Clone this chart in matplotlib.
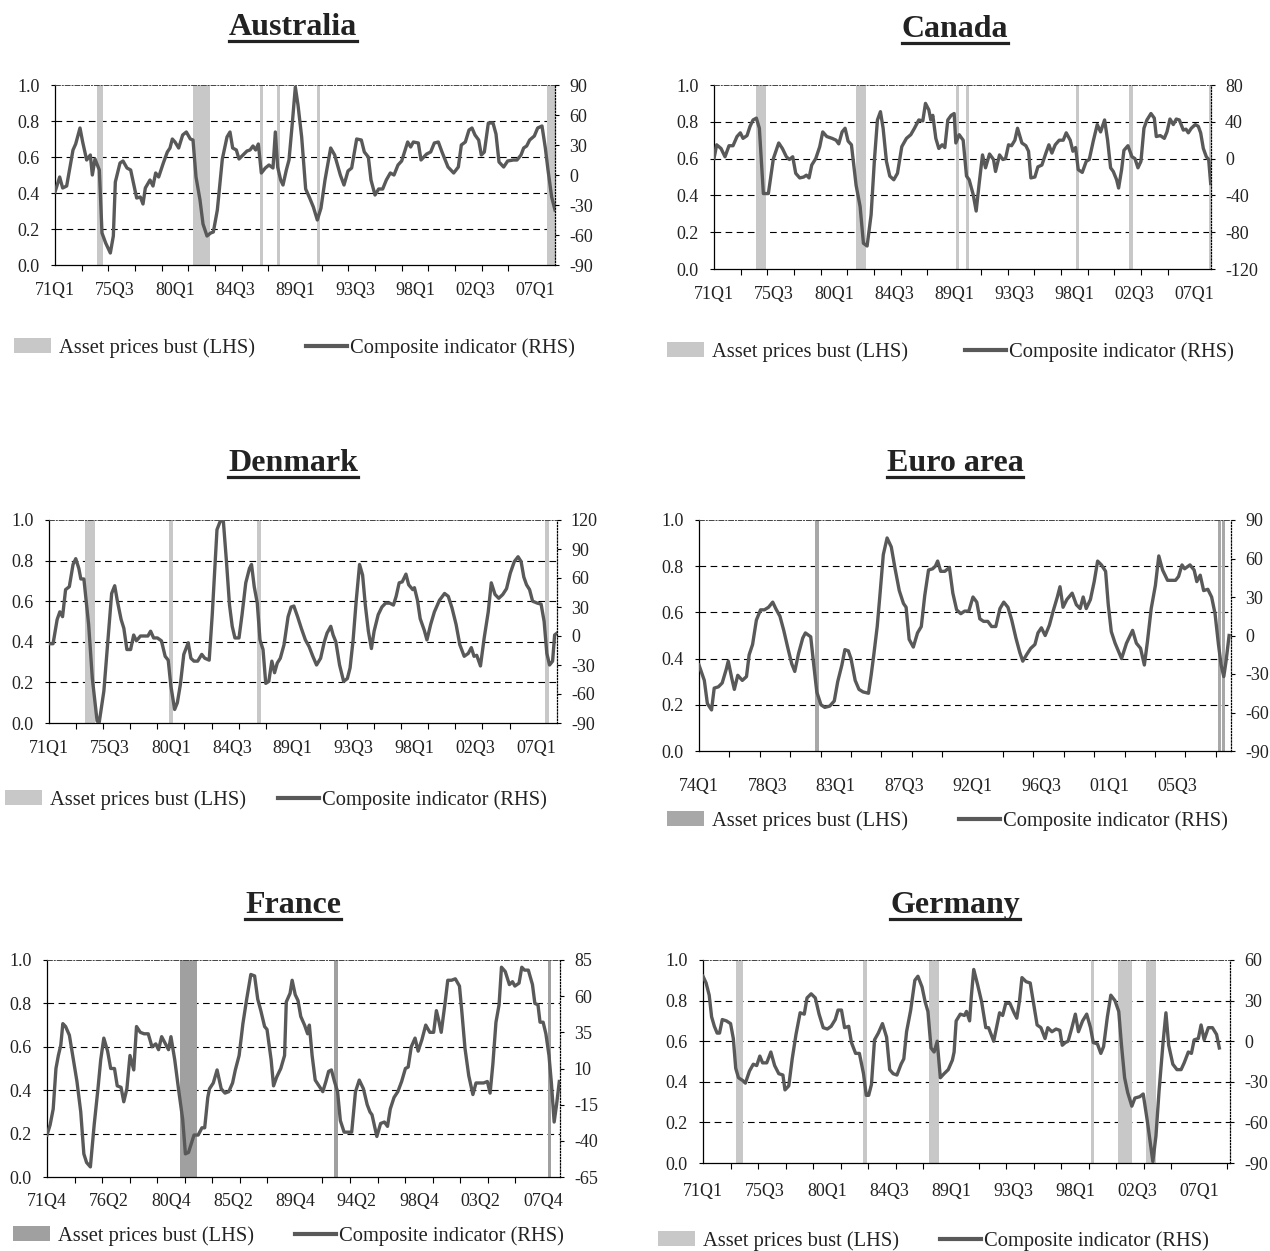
import numpy as np
import matplotlib
matplotlib.use("Agg")
import matplotlib.pyplot as plt
from matplotlib.patches import Patch
from matplotlib.lines import Line2D

plt.rcParams['font.family'] = ['Liberation Serif', 'DejaVu Serif']
plt.rcParams['axes.unicode_minus'] = False

# composite indicator: (quarters since first quarter, value on RHS scale)
australia = [(0,-17),(1.4,-2),(2.3,-13),(3.5,-11),(4.8,14),(5.4,25),(6.2,31),(7.5,47),(8.3,33),(9.5,15),(10.6,20),(11.2,0),(12.0,16),(13.3,5),(14.1,-58),(15.2,-68),(16.6,-78),(17.5,-61),(18.1,-7),(19.5,12),(20.4,14),(21.6,7),(22.7,5),(23.9,-14),(24.5,-23),(25.6,-22),(26.4,-29),(27.1,-13),(28.5,-5),(29.4,-11),(30.2,2),(31.1,-2),(32.5,12),(33.7,23),(34.5,27),(35.2,36),(36.0,33),(37.1,27),(38.3,40),(39.4,43),(40.6,36),(41.4,35),(42.3,-2),(43.5,-25),(44.4,-49),(45.6,-61),(46.7,-58),(47.5,-57),(48.7,-35),(50.2,16),(51.6,38),(52.5,43),(53.3,27),(54.4,25),(55.2,16),(56.4,20),(57.6,24),(58.5,25),(59.4,29),(60.2,25),(61.0,31),(61.9,2),(63.1,7),(64.2,10),(65.4,7),(66.1,43),(66.8,8),(67.7,-5),(68.4,-10),(69.4,5),(70.2,15),(71.2,52),(72.1,88),(72.9,70),(74.0,38),(75.2,-14),(76.4,-23),(77.5,-32),(78.7,-45),(79.8,-33),(81.0,-5),(82.7,27),(83.9,20),(85.6,0),(86.7,-10),(87.9,4),(89.0,7),(90.5,36),(91.9,35),(92.8,23),(94.0,18),(94.8,-5),(96.0,-20),(97.1,-14),(98.3,-14),(99.4,-5),(100.6,2),(101.7,0),(102.9,10),(104.0,14),(105.8,33),(106.7,28),(107.5,33),(109.0,32),(109.8,15),(111.5,21),(112.7,23),(113.8,32),(115.0,33),(116.1,23),(117.9,8),(119.6,2),(121.0,8),(121.9,30),(123.1,33),(124.2,45),(125.1,47),(126.0,40),(127.1,35),(127.9,20),(128.8,23),(130.0,52),(131.4,52),(132.3,41),(133.2,13),(134.6,8),(135.8,14),(137.5,15),(138.6,15),(139.8,20),(140.6,27),(141.5,29),(142.4,35),(143.8,39),(144.8,47),(146.1,49),(147.1,27),(147.9,5),(149.0,-22),(150.0,-35)]

canada = [(0,0),(0.8,15),(2.1,11),(3.3,2),(4.5,14),(5.7,14),(6.9,24),(7.9,28),(8.7,22),(9.9,25),(10.8,35),(11.7,42),(12.7,44),(13.6,33),(14.8,-38),(16.3,-38),(17.8,0),(19.4,17),(20.5,11),(21.7,2),(22.6,-1),(23.6,2),(24.5,-16),(25.7,-21),(26.9,-20),(27.7,-18),(28.5,-21),(29.3,-7),(30.5,0),(31.7,13),(32.6,29),(33.8,24),(35.4,22),(36.6,20),(37.4,16),(38.4,29),(39.3,33),(40.2,19),(41.2,15),(42.6,-29),(43.8,-52),(44.8,-92),(45.9,-95),(47.1,-61),(48.1,-1),(49.0,42),(49.9,51),(50.7,33),(51.7,-3),(52.7,-19),(53.9,-23),(55.0,-16),(56.3,13),(57.7,22),(59.0,26),(60.1,33),(61.4,42),(62.6,41),(63.4,60),(64.4,53),(65.0,42),(65.6,47),(66.5,22),(67.4,11),(68.4,15),(69.2,12),(70.1,42),(71.1,47),(72.0,49),(72.5,17),(73.5,26),(74.7,20),(75.7,-19),(76.5,-23),(77.7,-39),(78.6,-57),(79.5,-27),(80.5,4),(81.4,-10),(82.6,5),(83.8,-1),(84.4,-14),(85.6,4),(86.6,-1),(87.4,0),(88.3,15),(89.2,14),(90.2,20),(91.0,33),(92.3,17),(93.5,14),(94.3,8),(95.0,-21),(96.2,-20),(97.1,-9),(98.3,-7),(99.5,6),(100.4,15),(101.3,6),(102.3,15),(103.5,20),(104.7,20),(105.6,28),(106.8,20),(107.6,8),(108.4,12),(109.2,-12),(110.4,-15),(111.6,-3),(112.5,-1),(113.7,19),(114.9,37),(115.9,29),(117.1,42),(118.0,20),(118.9,-10),(119.7,-14),(120.7,-23),(121.3,-32),(122.2,-12),(122.9,9),(124.1,14),(125.3,2),(126.2,0),(127.1,-10),(128.0,-3),(128.9,33),(129.8,42),(131.0,49),(132.0,44),(132.6,24),(133.8,25),(135.0,22),(135.8,29),(136.7,43),(137.7,37),(138.6,43),(139.5,42),(140.7,31),(141.5,32),(142.2,28),(143.1,33),(144.3,37),(145.2,35),(145.9,28),(146.7,11),(147.6,2),(148.3,-1),(148.9,-27)]

denmark = [(0,-8),(1.2,-8),(2.4,17),(3.2,25),(4.0,20),(4.9,48),(6.0,51),(7.1,74),(7.9,80),(8.8,70),(9.4,59),(10.3,59),(11.7,12),(12.8,-44),(14.2,-88),(14.8,-90),(16.2,-57),(17.3,-9),(18.5,44),(19.4,52),(20.2,36),(21.3,17),(22.1,8),(23.0,-14),(24.1,-14),(25.0,1),(25.8,-5),(27.0,0),(28.1,0),(29.2,0),(30.0,5),(30.9,-2),(32.0,-2),(33.2,-5),(34.3,-21),(35.2,-25),(36.0,-52),(37.1,-76),(37.9,-69),(38.8,-50),(39.8,-19),(41.1,-7),(41.9,-23),(42.8,-26),(43.9,-26),(45.1,-19),(46.0,-23),(47.3,-25),(48.2,22),(49.6,110),(50.7,120),(51.5,118),(52.4,77),(53.3,32),(54.1,10),(54.9,-2),(56.1,-2),(57.0,22),(58.1,55),(59.2,70),(59.8,74),(60.6,51),(61.5,34),(62.3,-4),(63.2,-14),(64.0,-49),(64.9,-47),(65.8,-26),(66.6,-38),(67.4,-28),(68.3,-23),(69.4,-9),(70.6,20),(71.5,30),(72.3,31),(73.4,20),(74.5,8),(75.7,-4),(76.8,-11),(77.9,-21),(79.0,-30),(80.2,-23),(81.3,-6),(82.1,3),(83.2,10),(83.9,1),(84.7,-6),(85.8,-30),(87.0,-47),(88.1,-44),(88.9,-33),(89.8,-4),(90.7,36),(91.7,74),(92.6,63),(93.4,32),(94.3,5),(95.2,-13),(96.0,5),(97.2,22),(98.3,30),(99.4,34),(100.6,34),(101.7,32),(102.5,41),(103.4,55),(104.3,56),(105.4,64),(106.2,53),(107.4,48),(107.9,50),(108.8,37),(109.6,18),(110.8,6),(111.6,-4),(112.7,12),(113.8,25),(115.3,37),(116.8,44),(117.9,41),(119.0,29),(120.2,12),(121.3,-9),(122.6,-21),(123.8,-18),(124.7,-12),(125.5,-21),(126.3,-20),(127.4,-31),(128.5,-2),(129.7,25),(130.6,55),(131.7,43),(132.8,39),(134.0,43),(135.1,49),(136.2,65),(137.4,77),(138.5,82),(139.4,77),(140.2,61),(141.0,53),(141.9,48),(142.8,36),(144.2,34),(145.3,33),(146.2,15),(147.0,-18),(147.8,-30),(148.7,-26),(149.3,1),(150.0,3)]

euro_area = [(0,-23),(0.8,-30),(1.4,-35),(2.2,-53),(3.3,-58),(4.0,-41),(5.1,-40),(6.1,-37),(7.2,-26),(7.7,-20),(8.6,-33),(9.3,-42),(10.2,-31),(11.4,-35),(12.5,-32),(13.2,-15),(14.1,-7),(15.1,12),(16.2,20),(17.2,20),(18.3,22),(19.4,26),(20.2,21),(21.3,15),(22.3,4),(23.4,-10),(24.4,-22),(25.2,-28),(26.2,-14),(27.3,-2),(28.0,2),(29.4,-1),(30.2,-23),(31.0,-44),(32.1,-54),(33.1,-56),(34.4,-55),(35.6,-51),(36.5,-36),(37.6,-23),(38.4,-11),(39.3,-12),(40.0,-18),(41.1,-35),(42.1,-42),(43.2,-44),(44.6,-45),(45.3,-31),(46.0,-15),(46.9,7),(47.6,31),(48.5,63),(49.5,76),(50.6,69),(51.6,52),(52.7,35),(53.8,25),(54.5,22),(55.3,-3),(56.4,-9),(57.5,2),(58.5,7),(59.4,31),(60.4,51),(61.5,52),(62.2,54),(62.8,58),(63.6,50),(64.7,50),(65.9,53),(66.8,33),(67.8,20),(68.9,17),(69.9,19),(71.0,19),(72.1,30),(73.1,26),(73.9,13),(74.9,11),(76.0,11),(77.0,7),(78.1,7),(79.2,21),(80.2,26),(81.3,22),(82.3,12),(83.4,-2),(84.4,-13),(85.2,-20),(86.2,-15),(87.3,-10),(88.4,-7),(89.2,2),(90.1,6),(91.1,0),(92.2,8),(93.2,19),(94.3,30),(95.0,38),(95.8,22),(96.8,28),(98.2,33),(99.3,24),(100.3,21),(101.1,30),(101.9,21),(103.0,28),(104.0,42),(104.9,58),(105.9,55),(107.0,50),(107.7,24),(108.5,3),(109.5,-6),(111.2,-18),(112.5,-6),(114.1,4),(115.1,-6),(116.2,-10),(117.2,-23),(118.0,-5),(119.0,21),(120.1,39),(121.0,62),(122.0,51),(123.3,43),(124.3,43),(125.4,43),(126.2,46),(127.1,55),(127.8,52),(129.2,55),(130.3,51),(131.0,42),(131.9,47),(132.8,35),(133.9,36),(134.9,30),(135.8,17),(136.7,-7),(137.4,-23),(138.1,-32),(138.7,-20),(139.5,0)]

france = [(0,-36),(0.9,-29),(1.8,-18),(2.6,10),(3.3,19),(4.0,26),(4.6,41),(5.4,39),(6.5,33),(7.6,17),(8.7,1),(9.8,-20),(10.7,-49),(11.5,-55),(12.6,-58),(13.7,-29),(14.8,-4),(15.6,16),(16.5,31),(17.6,22),(18.5,10),(19.6,10),(20.4,-2),(21.5,-3),(22.3,-13),(23.2,-4),(24.1,19),(25.2,9),(26.0,39),(27.1,35),(28.2,34),(29.4,34),(30.5,25),(31.6,27),(32.4,23),(33.3,32),(34.2,28),(35.3,23),(36.0,32),(37.1,16),(38.3,-6),(39.4,-25),(40.2,-49),(41.1,-48),(41.9,-42),(42.7,-36),(43.9,-36),(45.0,-31),(45.8,-31),(46.7,-10),(47.2,-4),(48.3,0),(49.4,9),(50.6,-4),(51.7,-7),(52.8,-6),(53.9,0),(54.7,9),(55.8,19),(56.9,41),(58.0,58),(59.2,75),(60.3,74),(61.2,58),(62.1,50),(63.2,39),(63.9,37),(65.1,16),(65.8,-2),(66.7,4),(67.9,10),(69.0,19),(69.5,56),(70.6,62),(71.2,71),(72.1,61),(72.9,57),(73.7,46),(74.8,40),(75.7,34),(76.2,40),(77.0,19),(77.9,2),(79.0,-2),(80.1,-6),(81.0,1),(81.8,8),(82.6,9),(83.5,1),(84.4,-6),(85.2,-26),(86.3,-34),(87.4,-34),(88.5,-34),(89.6,-6),(90.7,2),(91.9,-4),(93.0,-15),(93.8,-20),(94.4,-22),(95.8,-37),(96.9,-28),(98.0,-27),(98.9,-30),(99.7,-18),(100.8,-10),(101.9,-6),(103.0,1),(104.1,10),(104.9,11),(105.8,25),(106.9,31),(107.8,22),(108.9,30),(110.0,40),(111.2,35),(112.3,35),(113.1,50),(113.8,43),(114.5,35),(115.6,55),(116.4,71),(117.5,71),(118.6,72),(119.8,67),(120.5,49),(121.4,24),(122.5,5),(123.7,-8),(124.6,0),(125.7,0),(126.8,0),(127.9,1),(128.7,-7),(129.5,13),(130.4,42),(131.3,54),(132.0,80),(133.1,77),(134.3,68),(135.2,70),(135.9,67),(137.1,69),(137.9,80),(138.7,78),(139.8,78),(141.0,68),(141.7,55),(142.6,54),(143.2,42),(144.1,42),(144.9,34),(145.8,19),(146.5,0),(147.3,-27),(148.0,-15),(148.8,1)]

germany = [(0,48),(0.9,43),(1.8,34),(2.5,18),(3.3,11),(4.1,6),(4.8,6),(5.6,16),(6.8,15),(8.0,13),(8.8,2),(9.5,-20),(10.3,-27),(11.5,-29),(12.3,-31),(13.5,-22),(14.6,-17),(15.6,-18),(16.5,-11),(17.3,-16),(18.5,-16),(19.7,-8),(20.8,-18),(22.0,-24),(23.2,-25),(23.8,-36),(24.9,-33),(25.9,-13),(27.0,5),(28.2,21),(29.4,20),(30.2,32),(31.4,35),(32.6,32),(33.7,20),(34.9,10),(36.1,9),(37.2,11),(38.4,16),(39.2,23),(40.2,23),(41.1,10),(42.3,11),(43.1,-1),(44.3,-9),(45.4,-9),(46.6,-24),(47.4,-40),(48.1,-40),(48.9,-32),(49.8,1),(50.9,6),(52.1,13),(53.3,3),(54.2,-21),(55.2,-24),(56.3,-25),(57.5,-17),(58.3,-13),(59.1,7),(60.3,23),(61.5,45),(62.4,48),(63.6,40),(64.5,29),(65.3,22),(66.2,-5),(67.1,-8),(68.0,0),(68.9,-27),(70.0,-24),(71.2,-21),(72.4,-14),(72.9,-8),(73.5,15),(74.7,20),(75.9,19),(76.5,22),(77.4,15),(77.9,33),(78.6,53),(79.7,42),(80.9,29),(82.1,10),(82.9,10),(83.5,6),(84.4,0),(85.2,10),(86.1,21),(87.0,19),(87.9,28),(89.1,28),(90.3,21),(91.1,17),(91.9,30),(92.6,47),(93.8,44),(95.0,43),(96.1,26),(97.0,12),(98.1,10),(99.3,2),(100.1,10),(101.3,7),(102.5,9),(103.6,8),(104.3,-3),(105.2,-1),(106.0,0),(107.1,10),(108.1,20),(109.0,7),(110.2,15),(111.4,20),(112.5,10),(113.3,-1),(114.5,-2),(115.5,-9),(116.3,-4),(117.4,18),(118.4,34),(119.6,30),(120.7,22),(121.5,-3),(122.4,-27),(123.3,-38),(124.5,-48),(125.4,-42),(126.8,-41),(127.8,-39),(129.0,-59),(129.7,-72),(130.6,-89),(131.5,-70),(132.4,-37),(133.6,0),(134.4,21),(135.2,-3),(136.4,-17),(137.6,-21),(138.8,-21),(139.7,-16),(140.9,-8),(141.8,-9),(142.6,1),(143.8,2),(144.6,12),(145.5,1),(146.7,10),(147.9,10),(149.1,5),(149.9,-5)]

# asset price bust quarters (quarters since first quarter)
australia_bust = [13, 14, 42, 43, 44, 45, 46, 62, 67, 79, 148, 149, 150]
canada_bust = [13, 14, 15, 43, 44, 45, 73, 76, 109, 125, 149]
denmark_bust = [11, 12, 13, 36, 62, 147]
euro_bust = [31, 137, 138]
france_bust = [39, 40, 41, 42, 43, 84, 146]
germany_bust = [10, 11, 47, 66, 67, 68, 113, 121, 122, 123, 124, 129, 130, 131]

# first quarter, number of quarters on the axis, RHS range and step
panels = [
    ("Australia", australia, australia_bust, (1971, 1), 150, (-90, 90, 30)),
    ("Canada", canada, canada_bust, (1971, 1), 149, (-120, 80, 40)),
    ("Denmark", denmark, denmark_bust, (1971, 1), 150, (-90, 120, 30)),
    ("Euro area", euro_area, euro_bust, (1974, 1), 140, (-90, 90, 30)),
    ("France", france, france_bust, (1971, 4), 149, (-65, 85, 25)),
    ("Germany", germany, germany_bust, (1971, 1), 153, (-90, 60, 30)),
]

# layout in pixels: axes (left, right, top, bottom), title (x, baseline),
# legend (patch x, line x, y), x label pad, bust colour
layout = [
    dict(ax=(55, 555, 85, 265), title=(293, 35), leg=(14, 306, 348), pad=9, bust="#c8c8c8"),
    dict(ax=(714, 1211, 85, 269), title=(955, 37), leg=(667, 965, 352), pad=9, bust="#c8c8c8"),
    dict(ax=(49, 557, 520, 723), title=(293, 471), leg=(5, 278, 800), pad=9, bust="#c8c8c8"),
    dict(ax=(699, 1231, 520, 751), title=(955, 471), leg=(667, 959, 821), pad=16, bust="#a8a8a8"),
    dict(ax=(47, 560, 960, 1177), title=(293, 913), leg=(13, 295, 1236), pad=8, bust="#a0a0a0"),
    dict(ax=(703, 1230, 960, 1163), title=(955, 913), leg=(658, 940, 1241), pad=11, bust="#c8c8c8"),
]

LINE = "#595959"
TXT = "#222222"
W, H = 1270, 1251


def quarter_label(start, k):
    n = start[0] * 4 + start[1] - 1 + k
    return "%02dQ%d" % ((n // 4) % 100, n % 4 + 1)


fig = plt.figure(figsize=(W / 100, H / 100), dpi=100)
titles = []

for (name, series, bust, start, nq, rhs), lay in zip(panels, layout):
    l, r, t, b = lay["ax"]
    ax = fig.add_axes([l / W, 1 - b / H, (r - l) / W, (b - t) / H])
    ax.bar(bust, [1] * len(bust), width=1.0, color=lay["bust"], linewidth=0, zorder=2)
    for g in [0.2, 0.4, 0.6, 0.8]:
        ax.axhline(g, color="black", lw=0.8, ls=(0, (6, 4)), zorder=1)
    ax.set_xlim(0, nq)
    ax.set_ylim(0, 1)
    ax.set_yticks(np.arange(0, 1.01, 0.2))
    ax.set_yticklabels(["%.1f" % v for v in np.arange(0, 1.01, 0.2)])
    major = list(range(0, nq + 1, 18))
    ax.set_xticks(major)
    ax.set_xticklabels([quarter_label(start, k) for k in major])
    ax.set_xticks(list(range(0, nq + 1, 8)), minor=True)
    ax.tick_params(axis="x", which="major", length=0, pad=lay["pad"] + 3.6,
                   labelsize=13, labelcolor=TXT)
    ax.tick_params(axis="x", which="minor", length=4, width=0.8, direction="out")
    ax.tick_params(axis="y", length=3, width=0.8, direction="out", pad=8,
                   labelsize=13, labelcolor=TXT)
    ax.spines["left"].set_linewidth(0.9)
    ax.spines["bottom"].set_linewidth(0.9)
    ax.spines["top"].set_linestyle((0, (5, 2, 1, 2)))
    ax.spines["top"].set_linewidth(0.7)
    ax.spines["top"].set_color("#444444")
    ax.spines["right"].set_visible(False)

    ax2 = ax.twinx()
    tq = [p[0] for p in series]
    vals = [p[1] for p in series]
    ax2.plot(tq, vals, color=LINE, lw=2.4, solid_joinstyle="round", zorder=3)
    lo, hi, step = rhs
    ax2.set_ylim(lo, hi)
    ax2.set_yticks(list(range(lo, hi + 1, step)))
    ax2.tick_params(axis="y", length=3, width=0.8, direction="out", pad=7,
                    labelsize=13, labelcolor=TXT)
    for s in ["left", "top", "bottom"]:
        ax2.spines[s].set_visible(False)
    ax2.spines["right"].set_linestyle((0, (1, 1.5)))
    ax2.spines["right"].set_linewidth(0.9)

    tx, ty = lay["title"]
    titles.append(fig.text(tx / W, 1 - ty / H, name, fontsize=23, fontweight="bold",
                           ha="center", va="baseline", color=TXT))

    px, lx, ly = lay["leg"]
    fig.legend(handles=[Patch(facecolor=lay["bust"], edgecolor="none")],
               labels=["Asset prices bust (LHS)"], loc="center left",
               bbox_to_anchor=(px / W, 1 - ly / H), frameon=False, fontsize=14.8,
               handlelength=1.8, handleheight=0.75, handletextpad=0.4,
               borderpad=0, borderaxespad=0, labelcolor=TXT)
    fig.legend(handles=[Line2D([], [], color=LINE, lw=3)],
               labels=["Composite indicator (RHS)"], loc="center left",
               bbox_to_anchor=(lx / W, 1 - ly / H), frameon=False, fontsize=14.8,
               handlelength=2.0, handletextpad=0.15,
               borderpad=0, borderaxespad=0, labelcolor=TXT)

# underline the titles
fig.canvas.draw()
renderer = fig.canvas.get_renderer()
for txt in titles:
    bb = txt.get_window_extent(renderer)
    y = (bb.y0 + 1) / H
    fig.add_artist(Line2D([bb.x0 / W, bb.x1 / W], [y, y], transform=fig.transFigure,
                          color=TXT, lw=2.3))

fig.savefig("out.png", dpi=100)
